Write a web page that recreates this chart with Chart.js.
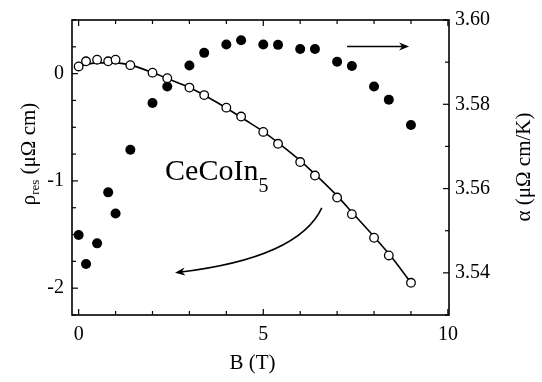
<!DOCTYPE html>
<html>
<head>
<meta charset="utf-8">
<script src="https://cdn.jsdelivr.net/npm/chart.js@4/dist/chart.umd.min.js"></script>
<style>
  html, body { margin: 0; padding: 0; background: #fff; }
  #wrap { width: 542px; height: 382px; }
</style>
</head>
<body>
<div id="wrap"><canvas id="c" width="542" height="382"></canvas></div>
<script>
// Magnetic field (T)
const fieldB = [0, 0.2, 0.5, 0.8, 1.0, 1.4, 2.0, 2.4, 3.0, 3.4, 4.0, 4.4, 5.0, 5.4, 6.0, 6.4, 7.0, 7.4, 8.0, 8.4, 9.0];
// residual resistivity rho_res (µΩ cm), open circles, left axis
const rhoRes = [0.067, 0.115, 0.13, 0.115, 0.13, 0.079, 0.009, -0.042, -0.13, -0.20, -0.317, -0.40, -0.543, -0.654, -0.824, -0.95, -1.155, -1.31, -1.53, -1.695, -1.95];
// T-linear coefficient alpha (µΩ cm/K), filled circles, right axis
const alphaCoef = [3.5490, 3.5421, 3.5470, 3.5591, 3.5541, 3.5692, 3.5803, 3.5842, 3.5892, 3.5922, 3.5942, 3.5952, 3.5942, 3.5941, 3.5931, 3.5931, 3.5901, 3.5891, 3.5842, 3.5811, 3.5751];
// smooth guide curve through rho_res
const guideB = [0, 0.5, 1.0, 1.5, 2.0, 2.5, 3.0, 3.5, 4.0, 4.5, 5.0, 5.5, 6.0, 6.5, 7.0, 7.5, 8.0, 8.5, 9.0];
const guideRho = [0.07, 0.10, 0.10, 0.07, 0.01, -0.06, -0.13, -0.22, -0.32, -0.43, -0.54, -0.67, -0.81, -0.97, -1.14, -1.33, -1.52, -1.72, -1.95];

const SERIF = '"Liberation Serif", "DejaVu Serif", serif';
const tickFont = { family: SERIF, size: 20 };

const pts = (xs, ys) => xs.map((v, i) => ({ x: v, y: ys[i] }));

function arrowHead(ctx, x, y, dx, dy, len, half) {
  const n = Math.hypot(dx, dy); const ux = dx / n, uy = dy / n;
  ctx.beginPath();
  ctx.moveTo(x, y);
  ctx.lineTo(x - ux * len - uy * half, y - uy * len + ux * half);
  ctx.lineTo(x - ux * len * 0.7, y - uy * len * 0.7);
  ctx.lineTo(x - ux * len + uy * half, y - uy * len - ux * half);
  ctx.closePath();
  ctx.fill();
}

const decor = {
  id: 'decor',
  afterDraw(chart) {
    const { ctx, chartArea: a, scales } = chart;
    const { x, y, y1 } = scales;
    ctx.save();
    ctx.strokeStyle = '#000';
    ctx.fillStyle = '#000';
    // frame
    ctx.lineWidth = 1.6;
    ctx.strokeRect(a.left, a.top, a.right - a.left, a.bottom - a.top);
    // inward tick marks
    ctx.lineWidth = 1.2;
    const seg = (x0, y0, x1, y1_) => { ctx.beginPath(); ctx.moveTo(x0, y0); ctx.lineTo(x1, y1_); ctx.stroke(); };
    x.ticks.forEach(t => {
      const v = t.value;
      if (Math.abs(v - Math.round(v)) > 1e-6) return;
      const px = x.getPixelForValue(v);
      const len = Math.round(v) % 5 === 0 ? 6 : 4;
      seg(px, a.bottom, px, a.bottom - len);
      seg(px, a.top, px, a.top + len);
    });
    y.ticks.forEach(t => {
      const r = Math.round(t.value * 4);
      const py = y.getPixelForValue(t.value);
      const len = r % 4 === 0 ? 6 : 4;
      seg(a.left, py, a.left + len, py);
    });
    y1.ticks.forEach(t => {
      const r = Math.round(t.value * 100);
      const py = y1.getPixelForValue(t.value);
      const len = r % 2 === 0 ? 6 : 4;
      seg(a.right, py, a.right - len, py);
    });

    // axis titles
    ctx.textBaseline = 'middle';
    ctx.textAlign = 'center';
    ctx.font = '21px ' + SERIF;
    ctx.fillText('B (T)', (a.left + a.right) / 2 - 8, 363);

    // left title: rho_res (µΩ cm)
    ctx.save();
    ctx.translate(28, 154);
    ctx.rotate(-Math.PI / 2);
    ctx.textAlign = 'left';
    ctx.textBaseline = 'alphabetic';
    const big = '21px ' + SERIF, small = '13px ' + SERIF;
    ctx.font = big; const wRho = ctx.measureText('ρ').width;
    ctx.font = small; const wSub = ctx.measureText('res').width;
    ctx.font = big; const wRest = ctx.measureText(' (μΩ cm)').width;
    let cx = -(wRho + wSub + wRest) / 2;
    ctx.font = big; ctx.fillText('ρ', cx, 7); cx += wRho;
    ctx.font = small; ctx.fillText('res', cx, 11); cx += wSub;
    ctx.font = big; ctx.fillText(' (μΩ cm)', cx, 7);
    ctx.restore();

    // right title
    ctx.save();
    ctx.translate(524, 167);
    ctx.rotate(-Math.PI / 2);
    ctx.textAlign = 'center';
    ctx.textBaseline = 'middle';
    ctx.font = '21px ' + SERIF;
    ctx.fillText('α (μΩ cm/K)', 0, 0);
    ctx.restore();

    // compound label
    const lx = x.getPixelForValue(2.34), ly = y.getPixelForValue(-0.995);
    ctx.textAlign = 'left';
    ctx.textBaseline = 'alphabetic';
    ctx.font = '30px ' + SERIF;
    ctx.fillText('CeCoIn', lx, ly);
    const wc = ctx.measureText('CeCoIn').width;
    ctx.font = '20px ' + SERIF;
    ctx.fillText('5', lx + wc, ly + 12);

    // arrow toward the right axis
    ctx.lineWidth = 1.6;
    const ax0 = x.getPixelForValue(7.27), ax1 = x.getPixelForValue(8.95), ay = y1.getPixelForValue(3.5937);
    seg(ax0, ay, ax1 - 5, ay);
    arrowHead(ctx, ax1, ay, 1, 0, 10, 4);

    // curved arrow toward the left axis
    const p0x = x.getPixelForValue(6.585), p0y = y.getPixelForValue(-1.252);
    const cX = x.getPixelForValue(5.95), cY = y.getPixelForValue(-1.72);
    const p2x = x.getPixelForValue(2.61), p2y = y.getPixelForValue(-1.855);
    ctx.beginPath();
    ctx.moveTo(p0x, p0y);
    ctx.quadraticCurveTo(cX, cY, p2x + 4, p2y - 0.3);
    ctx.stroke();
    arrowHead(ctx, p2x, p2y, p2x - cX, p2y - cY, 10, 4);

    ctx.restore();
  }
};

new Chart(document.getElementById('c'), {
  type: 'scatter',
  data: {
    datasets: [
      {
        label: 'rho_res',
        data: pts(fieldB, rhoRes),
        yAxisID: 'y',
        order: 0,
        pointStyle: 'circle',
        pointRadius: 4.3,
        pointBackgroundColor: '#fff',
        pointBorderColor: '#000',
        pointBorderWidth: 1.3,
        showLine: false
      },
      {
        label: 'alpha',
        data: pts(fieldB, alphaCoef),
        yAxisID: 'y1',
        order: 1,
        pointStyle: 'circle',
        pointRadius: 5,
        pointBackgroundColor: '#000',
        pointBorderColor: '#000',
        pointBorderWidth: 0,
        showLine: false
      },
      {
        label: 'guide',
        data: pts(guideB, guideRho),
        yAxisID: 'y',
        order: 2,
        showLine: true,
        pointRadius: 0,
        borderColor: '#000',
        borderWidth: 1.6,
        tension: 0.4,
        cubicInterpolationMode: 'monotone'
      }
    ]
  },
  options: {
    responsive: false,
    animation: false,
    devicePixelRatio: 1,
    layout: { padding: { top: 12, left: 0, right: 0, bottom: 0 } },
    plugins: { legend: { display: false }, tooltip: { enabled: false } },
    scales: {
      x: {
        type: 'linear', position: 'bottom', min: -0.18, max: 10.03,
        afterFit(s) { s.height = 67; },
        grid: { display: false, drawTicks: false },
        border: { display: false },
        ticks: {
          stepSize: 1, includeBounds: false, autoSkip: false, maxRotation: 0,
          font: tickFont, color: '#000', padding: 8,
          callback: v => (Math.abs(Math.round(v) - v) < 1e-6 && Math.round(v) % 5 === 0 ? String(Math.round(v)) : '')
        }
      },
      y: {
        type: 'linear', position: 'left', min: -2.25, max: 0.5,
        afterFit(s) { s.width = 72; },
        grid: { display: false, drawTicks: false },
        border: { display: false },
        ticks: {
          stepSize: 0.25, includeBounds: false, autoSkip: false,
          font: tickFont, color: '#000', padding: 8,
          callback: v => { const r = Math.round(v * 4); return r % 4 === 0 ? String(r / 4 || 0) : ''; }
        }
      },
      y1: {
        type: 'linear', position: 'right', min: 3.53, max: 3.60,
        afterFit(s) { s.width = 93; },
        grid: { display: false, drawTicks: false },
        border: { display: false },
        ticks: {
          stepSize: 0.01, includeBounds: false, autoSkip: false,
          font: tickFont, color: '#000', padding: 6,
          callback: v => { const r = Math.round(v * 100); return r % 2 === 0 ? (r / 100).toFixed(2) : ''; }
        }
      }
    }
  },
  plugins: [decor]
});
</script>
</body>
</html>
